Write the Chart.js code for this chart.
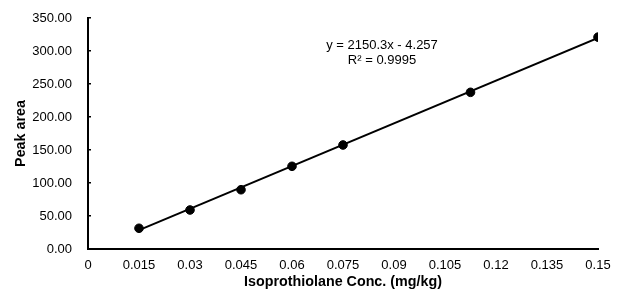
<!DOCTYPE html>
<html><head><meta charset="utf-8">
<script src="https://cdn.jsdelivr.net/npm/chart.js@4/dist/chart.umd.min.js"></script>
<style>html,body{margin:0;padding:0;background:#fff}#wrap{width:619px;height:293px}</style>
</head><body><div id="wrap"><canvas id="c"></canvas></div>
<script>
const concentrations = [0.015, 0.03, 0.045, 0.06, 0.075, 0.1125, 0.15];
const peakAreas = [31.4, 59.1, 89.8, 125.3, 157.6, 237.4, 321.0];
const trendX = [0.015, 0.15];
const trendY = [28.5, 320.0];
const xTickValues = [0, 0.015, 0.03, 0.045, 0.06, 0.075, 0.09, 0.105, 0.12, 0.135, 0.15];
const xTickLabels = ["0", "0.015", "0.03", "0.045", "0.06", "0.075", "0.09", "0.105", "0.12", "0.135", "0.15"];
const yTickValues = [0, 50, 100, 150, 200, 250, 300, 350];
const equationLines = ["y = 2150.3x - 4.257", "R\u00b2 = 0.9995"];

const FONT = "'Liberation Sans', Arial, sans-serif";

const eqPlugin = {
  id: 'eq',
  afterDatasetsDraw(chart) {
    const ctx = chart.ctx;
    ctx.save();
    ctx.fillStyle = '#000';
    ctx.font = '13px ' + FONT;
    ctx.textAlign = 'center';
    ctx.textBaseline = 'middle';
    ctx.fillText(equationLines[0], 382, 45);
    ctx.fillText(equationLines[1], 382, 60);
    ctx.restore();
  }
};

new Chart(document.getElementById('c'), {
  type: 'scatter',
  data: {
    datasets: [
      {
        label: 'Trend',
        type: 'line',
        data: trendX.map((x, i) => ({x, y: trendY[i]})),
        borderColor: '#000',
        borderWidth: 2,
        pointRadius: 0,
        fill: false,
        order: 2
      },
      {
        label: 'Peak area',
        data: concentrations.map((x, i) => ({x, y: peakAreas[i]})),
        backgroundColor: '#000',
        borderColor: '#000',
        pointRadius: 4.3,
        pointHoverRadius: 4.3,
        order: 1
      }
    ]
  },
  options: {
    responsive: true,
    maintainAspectRatio: false,
    animation: false,
    events: [],
    layout: {padding: {top: 18, right: 21, bottom: 0, left: 0}},
    plugins: {legend: {display: false}, tooltip: {enabled: false}},
    scales: {
      x: {
        type: 'linear',
        min: 0, max: 0.15,
        afterBuildTicks: s => { s.ticks = xTickValues.map(v => ({value: v})); },
        afterFit: s => { s.height = 44; s.paddingLeft = 0; s.paddingRight = 0; },
        grid: {display: false, drawTicks: false},
        border: {display: true, color: '#000', width: 2},
        ticks: {
          color: '#000', font: {family: FONT, size: 13}, padding: 9,
          maxRotation: 0, autoSkip: false,
          callback: (v, i) => xTickLabels[i]
        },
        title: {display: true, text: 'Isoprothiolane Conc. (mg/kg)', color: '#000',
          font: {family: FONT, size: 14.3, weight: 'bold'}, padding: {top: 0, bottom: 2}}
      },
      y: {
        type: 'linear',
        min: 0, max: 350,
        afterBuildTicks: s => { s.ticks = yTickValues.map(v => ({value: v})); },
        afterFit: s => { s.width = 88; s.paddingTop = 0; s.paddingBottom = 0; },
        grid: {display: true, drawOnChartArea: false, drawTicks: true, tickLength: -3, color: '#000', lineWidth: 1.5},
        border: {display: true, color: '#000', width: 2},
        ticks: {
          color: '#000', font: {family: FONT, size: 13}, padding: 19,
          callback: v => Number(v).toFixed(2)
        },
        title: {display: true, text: 'Peak area', color: '#000',
          font: {family: FONT, size: 14.3, weight: 'bold'}, padding: {top: 12, bottom: 0}}
      }
    }
  },
  plugins: [eqPlugin]
});
</script>
</body></html>
